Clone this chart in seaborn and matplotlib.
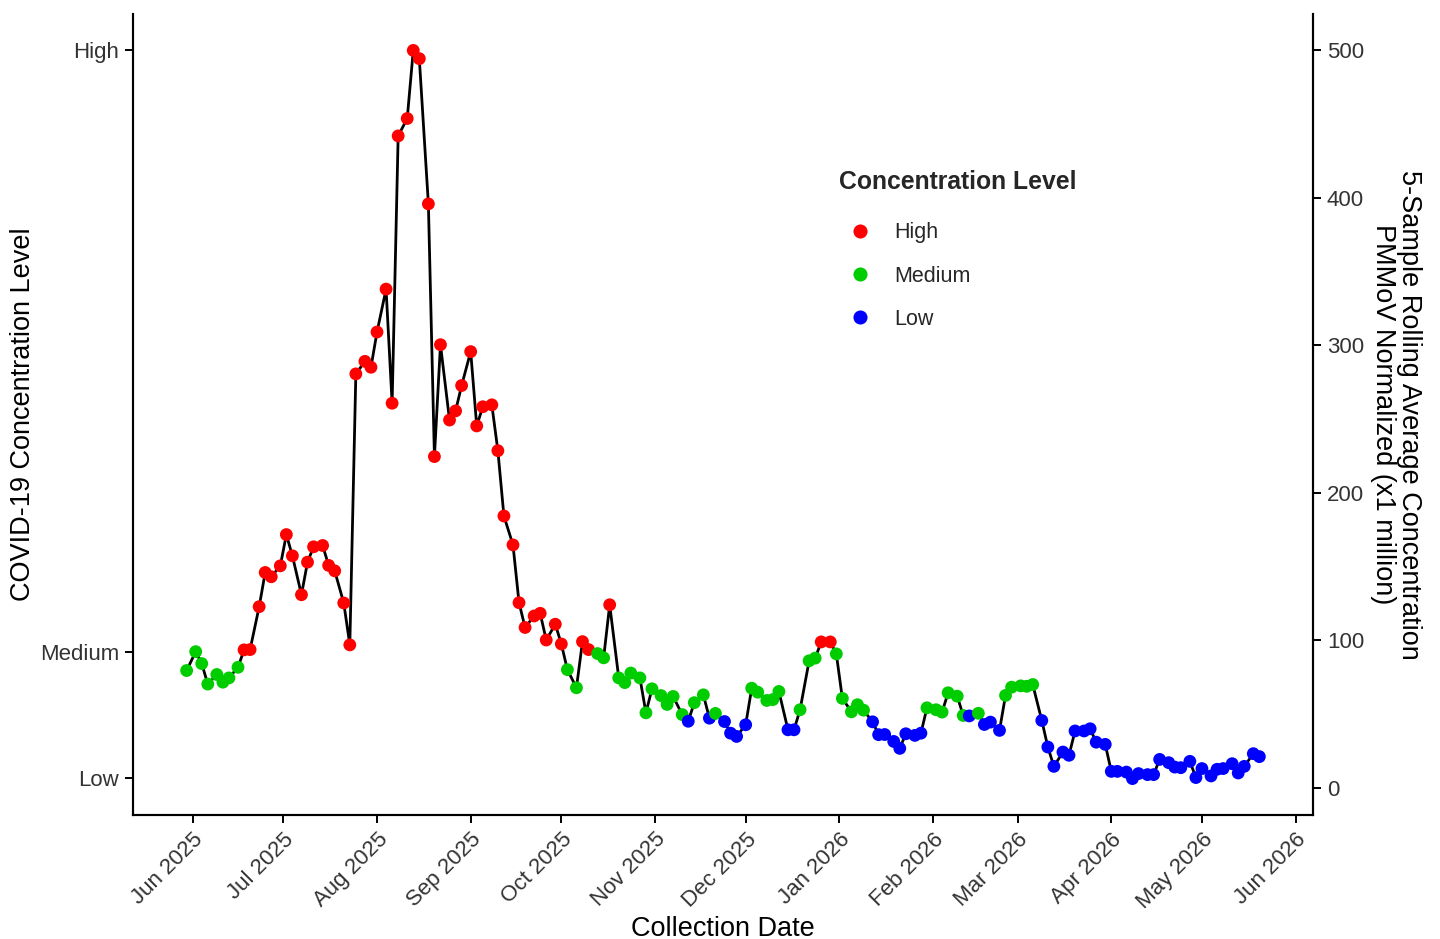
import pandas as pd
import matplotlib
matplotlib.use('Agg')
import matplotlib.pyplot as plt
import matplotlib.dates as mdates
import seaborn as sns

# ========== Data ==========

collection_dates = [
    '2025-05-30',
    '2025-06-02', '2025-06-04', '2025-06-06', '2025-06-09', '2025-06-11', '2025-06-13', '2025-06-16',
    '2025-06-18', '2025-06-20', '2025-06-23', '2025-06-25', '2025-06-27', '2025-06-30',
    '2025-07-02', '2025-07-04', '2025-07-07', '2025-07-09', '2025-07-11', '2025-07-14', '2025-07-16',
    '2025-07-18', '2025-07-21', '2025-07-23', '2025-07-25', '2025-07-28', '2025-07-30',
    '2025-08-01', '2025-08-04', '2025-08-06', '2025-08-08', '2025-08-11', '2025-08-13', '2025-08-15',
    '2025-08-18', '2025-08-20', '2025-08-22', '2025-08-25', '2025-08-27', '2025-08-29',
    '2025-09-01', '2025-09-03', '2025-09-05', '2025-09-08', '2025-09-10', '2025-09-12', '2025-09-15',
    '2025-09-17', '2025-09-19', '2025-09-22', '2025-09-24', '2025-09-26', '2025-09-29',
    '2025-10-01', '2025-10-03', '2025-10-06', '2025-10-08', '2025-10-10', '2025-10-13', '2025-10-15',
    '2025-10-17', '2025-10-20', '2025-10-22', '2025-10-24', '2025-10-27', '2025-10-29', '2025-10-31',
    '2025-11-03', '2025-11-05', '2025-11-07', '2025-11-10', '2025-11-12', '2025-11-14', '2025-11-17',
    '2025-11-19', '2025-11-21', '2025-11-24', '2025-11-26', '2025-11-28',
    '2025-12-01', '2025-12-03', '2025-12-05', '2025-12-08', '2025-12-10', '2025-12-12', '2025-12-15',
    '2025-12-17', '2025-12-19', '2025-12-22', '2025-12-24', '2025-12-26', '2025-12-29', '2025-12-31',
    '2026-01-02', '2026-01-05', '2026-01-07', '2026-01-09', '2026-01-12', '2026-01-14', '2026-01-16',
    '2026-01-19', '2026-01-21', '2026-01-23', '2026-01-26', '2026-01-28', '2026-01-30',
    '2026-02-02', '2026-02-04', '2026-02-06', '2026-02-09', '2026-02-11', '2026-02-13', '2026-02-16',
    '2026-02-18', '2026-02-20', '2026-02-23', '2026-02-25', '2026-02-27',
    '2026-03-02', '2026-03-04', '2026-03-06', '2026-03-09', '2026-03-11', '2026-03-13', '2026-03-16',
    '2026-03-18', '2026-03-20', '2026-03-23', '2026-03-25', '2026-03-27', '2026-03-30',
    '2026-04-01', '2026-04-03', '2026-04-06', '2026-04-08', '2026-04-10', '2026-04-13', '2026-04-15',
    '2026-04-17', '2026-04-20', '2026-04-22', '2026-04-24', '2026-04-27', '2026-04-29',
    '2026-05-01', '2026-05-04', '2026-05-06', '2026-05-08', '2026-05-11', '2026-05-13', '2026-05-15',
    '2026-05-18', '2026-05-20',
]

concentration = [
    79.4,
    92.2, 84.1, 70.2, 76.7, 71.5, 74.4, 81.6,
    93.4, 93.6, 122.7, 145.9, 143.0, 150.4,
    171.6, 157.2, 130.8, 152.9, 163.3, 164.2, 150.7,
    147.0, 125.2, 96.8, 280.6, 289.1, 285.1,
    309.0, 338.1, 260.7, 442.0, 453.8, 500.0, 494.4,
    395.9, 224.5, 300.4, 249.3, 255.5, 272.7,
    295.7, 245.3, 258.3, 259.6, 228.5, 184.2, 164.6,
    125.4, 108.6, 116.4, 118.2, 100.1, 110.8,
    97.4, 80.0, 67.7, 99.0, 93.6, 90.9, 88.0,
    124.0, 74.4, 71.2, 77.7, 74.4, 50.7, 67.0,
    62.4, 56.4, 61.8, 49.5, 45.0, 57.6, 62.9,
    47.1, 50.3, 44.8, 36.9, 34.7,
    42.6, 67.4, 64.7, 59.1, 59.7, 65.2, 39.2,
    39.2, 52.8, 86.0, 87.8, 98.8, 98.8, 90.7,
    60.5, 51.4, 56.2, 52.5, 44.6, 35.9, 36.0,
    31.3, 26.6, 36.5, 35.4, 36.9, 54.1,
    52.8, 51.2, 64.3, 62.0, 48.9, 48.6, 50.4,
    42.8, 44.4, 38.8, 62.5, 68.1,
    69.0, 68.7, 69.9, 45.5, 27.5, 14.4, 24.1,
    21.9, 38.4, 38.4, 39.9, 30.8, 29.3,
    11.0, 11.0, 10.5, 6.1, 9.5, 8.8, 8.8,
    19.1, 16.9, 13.9, 13.5, 17.8, 6.8,
    12.9, 7.9, 12.4, 12.9, 16.2, 9.9, 14.4,
    23.0, 21.0,
]

# H = High, M = Medium, L = Low (one code per sample, same order as above)
level_codes = (
    'M'
    'MMMMMMM'
    'HHHHHH'
    'HHHHHHH'
    'HHHHHH'
    'HHHHHHH'
    'HHHHHH'
    'HHHHHHH'
    'HHHHHH'
    'HMMHHMM'
    'HMMMMMM'
    'MMMMLMM'
    'LMLLL'
    'LMMMMML'
    'LMMMHHM'
    'MMMMLLL'
    'LLLLLM'
    'MMMMMLM'
    'LLLMM'
    'MMMLLLL'
    'LLLLLL'
    'LLLLLLL'
    'LLLLLL'
    'LLLLLLL'
    'LL'
)

level_names = {'H': 'High', 'M': 'Medium', 'L': 'Low'}
level_order = ['High', 'Medium', 'Low']
level_colors = {'High': '#FF0000', 'Medium': '#00CD00', 'Low': '#0000FF'}

# positions of the qualitative labels on the left axis
left_tick_values = [6.5, 92, 500]
left_tick_labels = ['Low', 'Medium', 'High']
right_tick_values = [0, 100, 200, 300, 400, 500]

# ========== Plot ==========

df = pd.DataFrame({
    'Collection Date': pd.to_datetime(collection_dates),
    'Concentration': concentration,
    'Level': [level_names[c] for c in level_codes],
})

sns.set_theme(style='ticks')
plt.rcParams['font.family'] = ['Liberation Sans', 'DejaVu Sans']

fig = plt.figure(figsize=(14.4, 9.39), dpi=100)
ax = fig.add_axes([133 / 1440, 1 - 815 / 939, 1180 / 1440, 801 / 939])

sns.lineplot(data=df, x='Collection Date', y='Concentration', estimator=None,
             color='black', linewidth=2.0, ax=ax, zorder=1)
sns.scatterplot(data=df, x='Collection Date', y='Concentration', hue='Level',
                hue_order=level_order, palette=level_colors, s=85,
                edgecolor='none', linewidth=0, ax=ax, zorder=2)

# ggplot-like 5% expansion
xmin = mdates.date2num(df['Collection Date'].min())
xmax = mdates.date2num(df['Collection Date'].max())
xpad = (xmax - xmin) * 0.05
ax.set_xlim(xmin - xpad, xmax + xpad)
ymin, ymax = min(concentration), max(concentration)
ypad = (ymax - ymin) * 0.05
ax.set_ylim(ymin - ypad, ymax + ypad)

ax.xaxis.set_major_locator(mdates.MonthLocator())
ax.xaxis.set_major_formatter(mdates.DateFormatter('%b %Y'))
plt.setp(ax.get_xticklabels(), rotation=45, ha='right', rotation_mode='anchor')

ax.set_yticks(left_tick_values)
ax.set_yticklabels(left_tick_labels)

ax2 = ax.twinx()
ax2.set_ylim(ax.get_ylim())
ax2.set_yticks(right_tick_values)

for a in (ax, ax2):
    a.spines['top'].set_visible(False)
    for s in ('left', 'bottom', 'right'):
        a.spines[s].set_linewidth(1.5)
        a.spines[s].set_color('black')
    a.tick_params(axis='both', length=6, width=1.4, color='black',
                  labelsize=16, labelcolor='#333333', pad=4)

ax.set_xlabel('Collection Date', fontsize=19.5, color='black', labelpad=2)
ax.set_ylabel('COVID-19 Concentration Level', fontsize=19.5, color='black', labelpad=3)
ax2.set_ylabel('5-Sample Rolling Average Concentration\nPMMoV Normalized (x1 million)',
               fontsize=19.5, color='black', rotation=270, labelpad=42,
               multialignment='center', linespacing=1.0)

leg = ax.legend(title='Concentration Level', loc='upper left',
                bbox_to_anchor=(0.598, 0.805), frameon=False, fontsize=15.5,
                title_fontproperties={'weight': 'bold', 'size': 17.8},
                borderpad=0, borderaxespad=0, labelspacing=1.04,
                handlelength=2.0, handletextpad=0.6, markerscale=1.1)
leg._legend_box.align = 'left'
leg._legend_box.sep = 1.04 * 15.5 + 4.0

plt.savefig('out.png', dpi=100)
plt.close()
